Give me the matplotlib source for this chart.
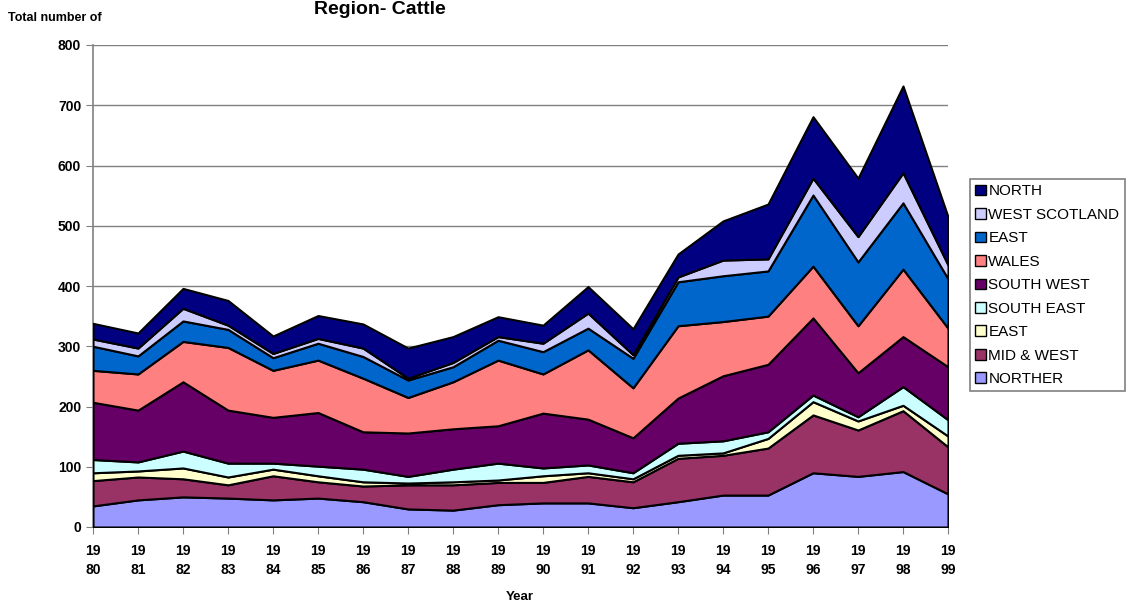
import numpy as np
import matplotlib
matplotlib.use("Agg")
import matplotlib.pyplot as plt
from matplotlib.patches import Patch

plt.rcParams['font.family'] = ['Liberation Sans', 'DejaVu Sans']

# 연도
years = list(range(1980, 2000))
year_labels = [f"{str(y)[:2]}\n{str(y)[2:]}" for y in years]

# 지역별 소 사육 농가 수 (아래에서 위로 쌓는 순서)
northern = [35, 45, 50, 48, 45, 48, 42, 30, 28, 37, 40, 40, 32, 42, 53, 53, 90, 84, 92, 55]
mid_west = [42, 38, 30, 22, 40, 27, 26, 40, 42, 37, 34, 44, 43, 72, 66, 78, 96, 77, 101, 78]
east = [13, 10, 18, 13, 11, 10, 7, 3, 5, 4, 11, 6, 5, 5, 4, 16, 22, 15, 9, 18]
south_east = [22, 15, 28, 23, 10, 16, 21, 11, 21, 28, 13, 13, 10, 20, 20, 11, 11, 7, 31, 27]
south_west = [95, 86, 115, 88, 76, 89, 62, 72, 67, 62, 91, 76, 58, 75, 108, 112, 128, 73, 83, 88]
wales = [53, 60, 67, 104, 78, 87, 89, 59, 78, 109, 65, 115, 83, 120, 90, 80, 86, 78, 112, 64]
east_scotland = [40, 30, 34, 30, 21, 28, 36, 29, 25, 33, 37, 36, 49, 73, 76, 75, 118, 106, 110, 82]
west_scotland = [12, 13, 21, 7, 7, 8, 14, 3, 7, 6, 14, 25, 6, 8, 26, 20, 28, 42, 50, 23]
north_scotland = [26, 25, 33, 41, 29, 38, 40, 50, 43, 33, 30, 44, 43, 38, 65, 91, 102, 97, 144, 80]

series = [northern, mid_west, east, south_east, south_west, wales,
          east_scotland, west_scotland, north_scotland]
labels = ["NORTHER", "MID & WEST", "EAST", "SOUTH EAST", "SOUTH WEST", "WALES",
          "EAST", "WEST SCOTLAND", "NORTH"]
colors = ["#9999FF", "#993366", "#FFFFCC", "#CCFFFF", "#660066", "#FF8080",
          "#0066CC", "#CCCCFF", "#000080"]

fig = plt.figure(figsize=(11.34, 6.05), dpi=100)
ax = fig.add_axes([93 / 1134, 1 - 527 / 605, (948 - 93) / 1134, (527 - 45) / 605])

ax.stackplot(years, *series, colors=colors, edgecolor='black', linewidth=1.5, zorder=3)

ax.set_xlim(1980, 1999)
ax.set_ylim(0, 800)
ax.set_yticks(range(0, 801, 100))
ax.set_xticks(years)
ax.set_xticklabels(year_labels, fontsize=10, fontweight='bold', linespacing=1.45)
ax.tick_params(axis='y', labelsize=10, length=5, color='#808080')
ax.tick_params(axis='x', length=5, color='#808080', pad=7)
for t in ax.get_yticklabels():
    t.set_fontweight('bold')
ax.grid(axis='y', color='#808080', linewidth=1, zorder=0)
ax.spines['top'].set_visible(False)
ax.spines['right'].set_visible(False)
for s in ['left', 'bottom']:
    ax.spines[s].set_color('#808080')
    ax.spines[s].set_linewidth(1.2)

# 축 제목
fig.text(520 / 1134, 1 - 597 / 605, 'Year', ha='center', va='center',
         fontsize=9.5, fontweight='bold')

# 제목 (원본에서는 위쪽이 살짝 잘려 있음)
fig.text(380 / 1134, 1 - 14 / 605, 'Region- Cattle', ha='center', va='baseline',
         fontsize=14, fontweight='bold')
fig.text(8 / 1134, 1 - 18 / 605, 'Total number of', ha='left', va='center',
         fontsize=9, fontweight='bold')

handles = [Patch(facecolor=c, edgecolor='black', label=l) for c, l in zip(colors, labels)]
leg = fig.legend(handles[::-1], labels[::-1], loc='upper left',
                 bbox_to_anchor=(970 / 1134, 1 - 179 / 605), fontsize=11,
                 frameon=True, fancybox=False, edgecolor='#808080', framealpha=1,
                 handlelength=0.7, handleheight=0.7, handletextpad=0.15,
                 labelspacing=0.62, borderpad=0.35, borderaxespad=0)
leg.get_frame().set_linewidth(1.2)

fig.savefig('out.png', dpi=100)
